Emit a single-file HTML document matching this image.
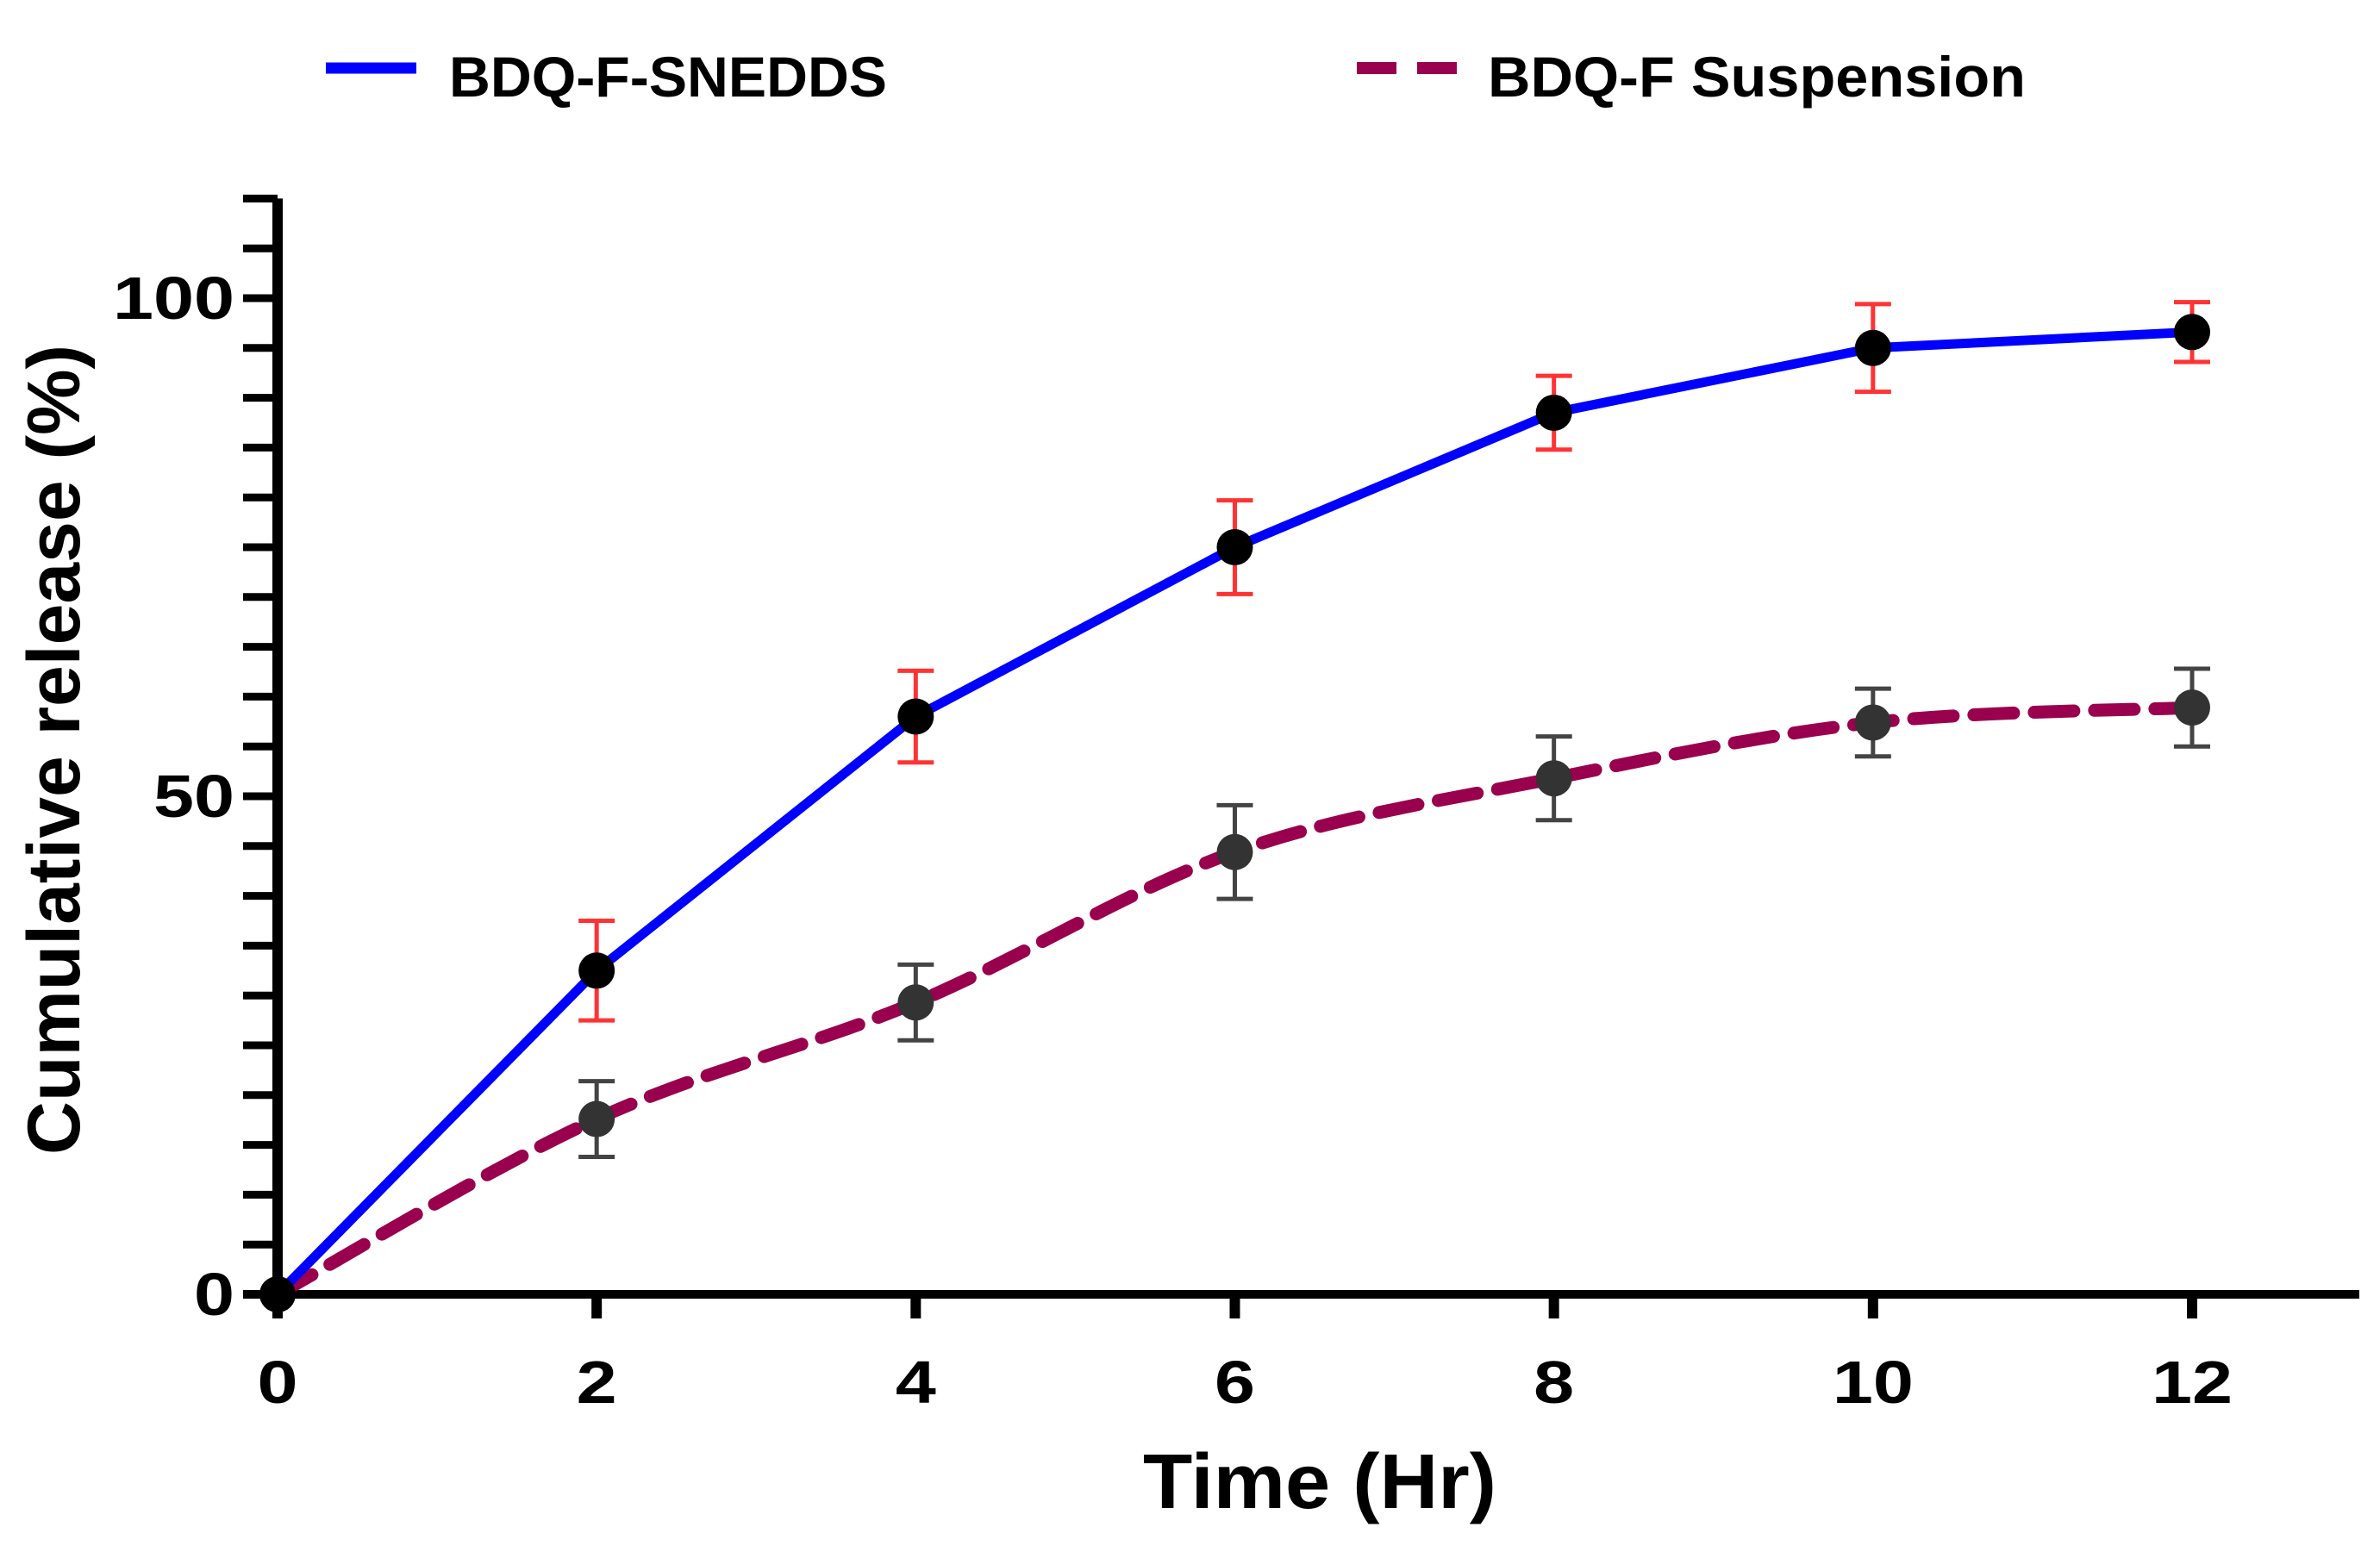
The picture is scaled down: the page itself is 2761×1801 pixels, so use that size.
<!DOCTYPE html>
<html><head><meta charset="utf-8"><style>html,body{margin:0;padding:0;background:#fff}svg{display:block}</style></head>
<body>
<svg id="chart" width="2761" height="1801" viewBox="0 0 2761 1801" xmlns="http://www.w3.org/2000/svg" font-family="Liberation Sans, sans-serif" font-weight="bold">
<g>
<line x1="378" y1="79" x2="483" y2="79" stroke="#0000ff" stroke-width="13"/>
<text x="521" y="112" font-size="66" textLength="508" lengthAdjust="spacingAndGlyphs">BDQ-F-SNEDDS</text>
<line x1="1574" y1="79" x2="1690" y2="79" stroke="#99004d" stroke-width="14" stroke-dasharray="46,24"/>
<text x="1726" y="112" font-size="66" textLength="624" lengthAdjust="spacingAndGlyphs">BDQ-F Suspension</text>
</g>
<g id="axes"></g>
<g id="plot"></g>
<text transform="translate(92,870) rotate(-90)" text-anchor="middle" font-size="86" textLength="940" lengthAdjust="spacingAndGlyphs">Cumulative release (%)</text>
<text x="1531" y="1750" text-anchor="middle" font-size="90" textLength="410" lengthAdjust="spacingAndGlyphs">Time (Hr)</text>
</svg>
<script>
const times=[0,2,4,6,8,10,12];
const sneddsVals=[0,32.5,58,75,88.5,95,96.6];
const sneddsErr=[0,5,4.6,4.7,3.7,4.4,3];
const suspVals=[0,17.6,29.3,44.4,51.8,57.4,58.9];
const suspErr=[0,3.8,3.8,4.7,4.2,3.4,3.9];
const xTicks=[0,2,4,6,8,10,12];
const yTicks=[0,50,100];
const NS='http://www.w3.org/2000/svg';
const X0=322,X1=2543,Y0=1502,Y1=346;
const sx=v=>X0+(X1-X0)*v/12;
const sy=v=>Y0-(Y0-Y1)*v/100;
function mk(tag,attrs,parent){const e=document.createElementNS(NS,tag);for(const k in attrs)e.setAttribute(k,attrs[k]);parent.appendChild(e);return e;}
const axes=document.getElementById('axes'),plot=document.getElementById('plot');
let e;
e=mk('line',{x1:X0,y1:sy(110),x2:X0,y2:Y0+6,stroke:'#000','stroke-width':12},axes);


e=mk('line',{x1:X0-40,y1:Y0,x2:2737,y2:Y0,stroke:'#000','stroke-width':10},axes);


for(let v=5;v<=110;v+=5){
 e=mk('line',{x1:X0-40,y1:sy(v),x2:X0,y2:sy(v),stroke:'#000','stroke-width':9},axes);
 
 
}
yTicks.forEach(v=>{
 e=mk('text',{x:X0-50,y:sy(v)+24,'text-anchor':'end','font-size':70,textLength:String(v).length*47,lengthAdjust:'spacingAndGlyphs'},axes);e.textContent=v;
 
 
});
xTicks.forEach(v=>{
 e=mk('line',{x1:sx(v),y1:Y0,x2:sx(v),y2:Y0+28,stroke:'#000','stroke-width':12},axes);
 
 
 e=mk('text',{x:sx(v),y:1628,'text-anchor':'middle','font-size':70,textLength:String(v).length*47,lengthAdjust:'spacingAndGlyphs'},axes);e.textContent=v;
 
 
});
function smoothPath(p){
 let d='M'+p[0][0]+','+p[0][1];
 for(let i=0;i<p.length-1;i++){
  const a=p[i-1]||p[i],b=p[i],c=p[i+1],n=p[i+2]||c;
  const c1=[b[0]+(c[0]-a[0])/6,b[1]+(c[1]-a[1])/6],c2=[c[0]-(n[0]-b[0])/6,c[1]-(n[1]-b[1])/6];
  d+=' C'+c1.join(',')+' '+c2.join(',')+' '+c.join(',');
 }
 return d;
}
function series(vals,errs,color,dash,errColor,mColor,name){
 const p=times.map((t,i)=>[sx(t),sy(vals[i])]);
 const a={fill:'none',stroke:color,'stroke-width':dash?15:11,'stroke-linejoin':'round'};
 if(dash){a.d=smoothPath(p);a['stroke-dasharray']='46,24';a['stroke-linecap']='round';e=mk('path',a,plot);}
 else{a.points=p.map(q=>q.join(',')).join(' ');e=mk('polyline',a,plot);}
 
 
 times.forEach((t,i)=>{
  if(errs[i]>0){
   const x=sx(t),yt=sy(vals[i]+errs[i]),yb=sy(vals[i]-errs[i]);
   const g=mk('g',{stroke:errColor,'stroke-width':5},plot);
   
   
   mk('line',{x1:x,y1:yt,x2:x,y2:yb},g);
   mk('line',{x1:x-21,y1:yt,x2:x+21,y2:yt},g);
   mk('line',{x1:x-21,y1:yb,x2:x+21,y2:yb},g);
  }
  e=mk('circle',{cx:sx(t),cy:sy(vals[i]),r:21,fill:mColor},plot);
  
  
 });
}
series(suspVals,suspErr,'#99004d',true,'#444','#333','suspension');
series(sneddsVals,sneddsErr,'#0000ff',false,'#ff3333','#000','snedds');
</script>
</body></html>
